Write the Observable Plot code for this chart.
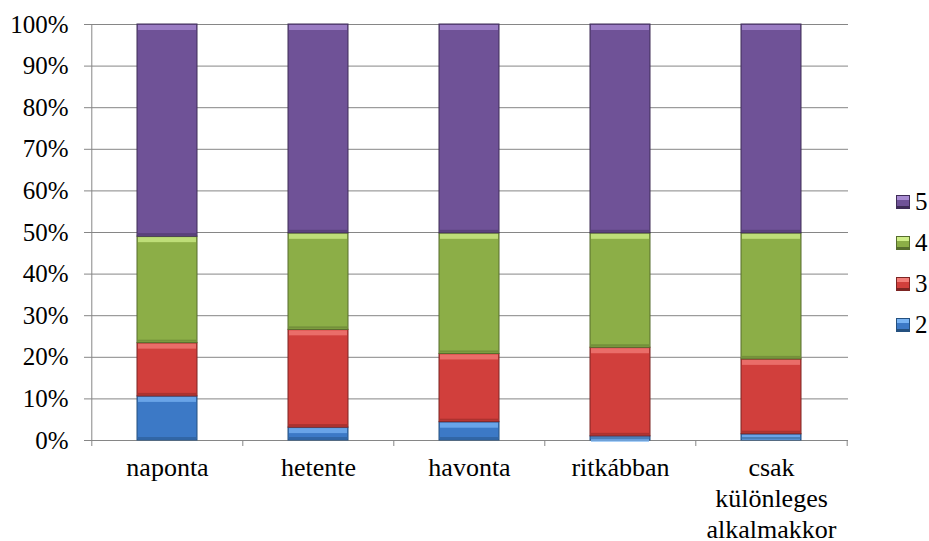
<!DOCTYPE html>
<html>
<head>
<meta charset="utf-8">
<script src="https://cdn.jsdelivr.net/npm/d3@7"></script>
<script src="https://cdn.jsdelivr.net/npm/@observablehq/plot@0.6"></script>
<style>
  body { margin: 0; background: #fff; }
  #chart { position: relative; width: 929px; height: 541px; font-family: "Liberation Serif", serif; }
  #chart svg text { font-family: "Liberation Serif", serif; }
  .legend { position: absolute; left: 896px; top: 181px; font-family: "Liberation Serif", serif; }
  .item { display: flex; align-items: center; height: 41px; font-size: 25px; color: #000; }
  .sw { width: 14px; height: 14px; margin-right: 5px; box-sizing: border-box; border: 1px solid; }
</style>
</head>
<body>
<div id="chart"></div>
<script>
// Categories (how often) and share of each rating, in percent
const categories = ["naponta", "hetente", "havonta", "ritkábban", "csak különleges alkalmakkor"];
const categoryLabels = ["naponta", "hetente", "havonta", "ritkábban", "csak\nkülönleges\nalkalmakkor"];
const seriesNames = ["2", "3", "4", "5"];
const rating2 = [10.6, 3.1, 4.4, 1.0, 1.5];
const rating3 = [12.8, 23.5, 16.4, 21.3, 18.0];
const rating4 = [25.6, 23.2, 29.0, 27.5, 30.3];
const rating5 = [51.0, 50.2, 50.2, 50.2, 50.2];
const yTicks = [0, 10, 20, 30, 40, 50, 60, 70, 80, 90, 100];

// Palette: body, light bevel, dark edge
const palette = {
  "2": { body: "#3c79c6", light: "#78b3f3", dark: "#24507f" },
  "3": { body: "#d13f3c", light: "#f27d78", dark: "#7c2422" },
  "4": { body: "#8cae47", light: "#cfee88", dark: "#566d2d" },
  "5": { body: "#6f5297", light: "#a88bd2", dark: "#3e2c57" }
};

const seriesValues = [rating2, rating3, rating4, rating5];
const rows = [];
categories.forEach((cat, i) => {
  let acc = 0;
  seriesNames.forEach((s, k) => {
    const v = seriesValues[k][i];
    rows.push({ cat, series: s, lo: acc, hi: acc + v });
    acc += v;
  });
});

const width = 929, height = 541;
const marginLeft = 91, marginRight = 81, marginTop = 24, marginBottom = 101;
const step = (width - marginLeft - marginRight) / categories.length;
const grid = "#868686";
const font = "Liberation Serif, serif";

const fillOf = (d) => palette[d.series].body;
const lightOf = (d) => palette[d.series].light;
const darkOf = (d) => palette[d.series].dark;

const chart = Plot.plot({
  width, height, marginLeft, marginRight, marginTop, marginBottom,
  style: { fontFamily: font, fontSize: "25px", color: "#000", background: "#fff" },
  x: { domain: categories, paddingInner: 0.6, paddingOuter: 0.3, label: null },
  y: { domain: [0, 100], label: null },
  marks: [
    Plot.gridY(yTicks, { stroke: grid, strokeOpacity: 1 }),
    // left axis line
    Plot.ruleX([categories[0]], { x: (d) => d, y1: 0, y2: 100, dx: -step / 2, stroke: grid }),
    // category separator ticks below the baseline
    Plot.ruleX(categories, { x: (d) => d, y1: 0, y2: 0, insetBottom: -6, dx: -step / 2, stroke: grid }),
    Plot.ruleX([categories[categories.length - 1]], { x: (d) => d, y1: 0, y2: 0, insetBottom: -6, dx: step / 2, stroke: grid }),
    Plot.ruleY([0], { stroke: grid }),
    // bar segments
    Plot.barY(rows, { x: "cat", y1: "lo", y2: "hi", fill: fillOf, stroke: darkOf, strokeWidth: 1 }),
    // bevel: lighter top strip, darker bottom strip
    Plot.barY(rows, { x: "cat", y1: "hi", y2: "hi", insetTop: 1, insetBottom: -6, insetLeft: 1, insetRight: 1, fill: lightOf, fillOpacity: 0.75 }),
    Plot.barY(rows, { x: "cat", y1: "lo", y2: "lo", insetTop: -3, insetBottom: 1, insetLeft: 1, insetRight: 1, fill: darkOf, fillOpacity: 0.45 }),
    Plot.axisY(yTicks, { tickSize: 7, tickPadding: 16, tickFormat: (d) => d + "%", stroke: grid, fill: "#000", fontSize: 25, fontFamily: font }),
    Plot.axisX({ tickSize: 0, tickPadding: 14, lineHeight: 1.18, fontSize: 26, fill: "#000", fontFamily: font,
      tickFormat: (d) => categoryLabels[categories.indexOf(d)] })
  ]
});

const root = document.getElementById("chart");
root.appendChild(chart);

// Legend, top entry is the top segment
const legend = document.createElement("div");
legend.className = "legend";
[...seriesNames].reverse().forEach((s) => {
  const p = palette[s];
  const item = document.createElement("div");
  item.className = "item";
  const sw = document.createElement("span");
  sw.className = "sw";
  sw.style.borderColor = p.dark;
  sw.style.background = `linear-gradient(to bottom, ${p.light} 0 35%, ${p.body} 35% 85%, ${p.dark} 85%)`;
  const label = document.createElement("span");
  label.textContent = s;
  item.appendChild(sw);
  item.appendChild(label);
  legend.appendChild(item);
});
root.appendChild(legend);
</script>
</body>
</html>
